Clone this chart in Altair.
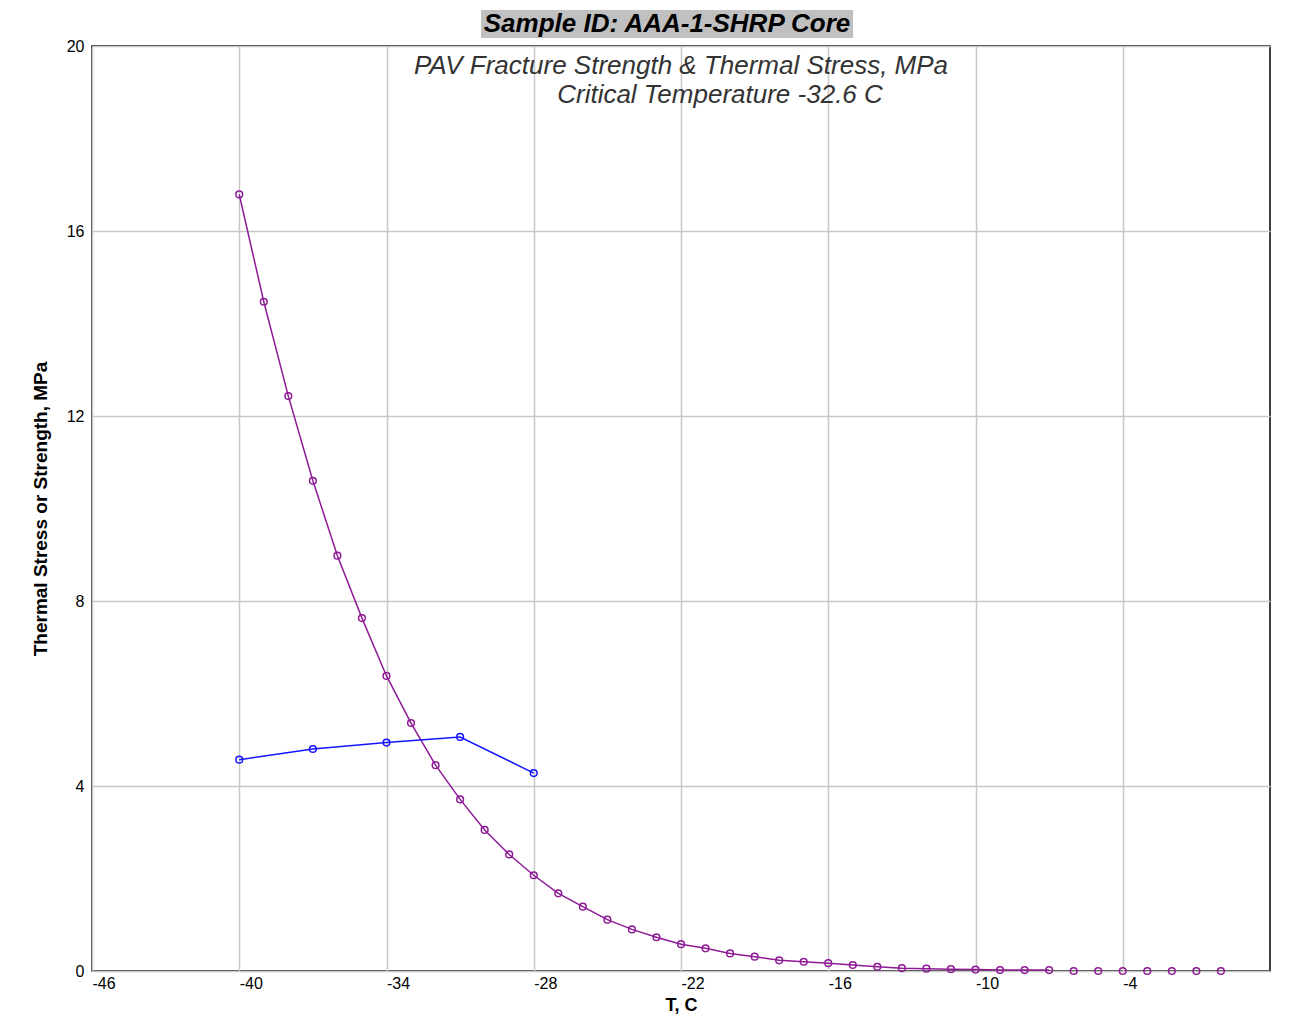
import altair as alt
import pandas as pd

# ---- data ----
stress_temp = list(range(-40, 1))
thermal_stress = [16.79, 14.47, 12.43, 10.60, 8.98, 7.63, 6.38, 5.36, 4.45, 3.71,
                  3.05, 2.52, 2.07, 1.68, 1.39, 1.11, 0.90, 0.73, 0.58, 0.49,
                  0.38, 0.31, 0.23, 0.20, 0.17, 0.13, 0.09, 0.06, 0.05, 0.04,
                  0.03, 0.02, 0.02, 0.02, 0.0, 0.0, 0.0, 0.0, 0.0, 0.0, 0.0]
line_last_temp = -7  # the purple line stops here; markers continue

strength_temp = [-40, -37, -34, -31, -28]
fracture_strength = [4.57, 4.80, 4.94, 5.06, 4.28]

x_ticks = [-46, -40, -34, -28, -22, -16, -10, -4]
y_ticks = [0, 4, 8, 12, 16, 20]

title_text = "Sample ID: AAA-1-SHRP Core"
sub1 = "PAV Fracture Strength & Thermal Stress, MPa"
sub2 = "Critical Temperature -32.6 C"

PURPLE = "#8e1a96"
BLUE = "#1414ff"

stress_df = pd.DataFrame({"T": stress_temp, "S": thermal_stress})
stress_line_df = stress_df[stress_df["T"] <= line_last_temp]
strength_df = pd.DataFrame({"T": strength_temp, "S": fracture_strength})

xscale = alt.Scale(domain=[-46, 2], nice=False, zero=False)
yscale = alt.Scale(domain=[0, 20], nice=False)

hyphen_expr = "datum.value < 0 ? '-' + abs(datum.value) : '' + datum.value"

xaxis = alt.Axis(values=x_ticks, labelAlign="left", labelPadding=4, ticks=False,
                 domain=False, grid=True, gridColor="#c8c8c8", gridWidth=1.5,
                 labelFontSize=16, labelColor="#000", labelExpr=hyphen_expr,
                 title="T, C", titleFontSize=18, titleFontWeight="bold",
                 titlePadding=5, titleColor="#000")
yaxis = alt.Axis(values=y_ticks, labelPadding=8, ticks=False, domain=False,
                 grid=True, gridColor="#c8c8c8", gridWidth=1.5,
                 labelFontSize=16, labelColor="#000", labelExpr=hyphen_expr,
                 title="Thermal Stress or Strength, MPa",
                 titleFontSize=19, titleFontWeight="bold", titlePadding=16,
                 titleColor="#000")

x_enc = alt.X("T:Q", scale=xscale, axis=xaxis)
y_enc = alt.Y("S:Q", scale=yscale, axis=yaxis)

stress_line = alt.Chart(stress_line_df).mark_line(color=PURPLE, strokeWidth=1.5).encode(
    x=x_enc, y=y_enc)
stress_pts = alt.Chart(stress_df).mark_point(
    shape="circle", filled=False, size=45, strokeWidth=1.5, color=PURPLE, opacity=1
).encode(x="T:Q", y="S:Q")

strength_line = alt.Chart(strength_df).mark_line(color=BLUE, strokeWidth=1.5).encode(
    x="T:Q", y="S:Q")
strength_pts = alt.Chart(strength_df).mark_point(
    shape="circle", filled=False, size=45, strokeWidth=1.5, color=BLUE, opacity=1
).encode(x="T:Q", y="S:Q")

title_df = pd.DataFrame({"t": [title_text]})
title_bg = alt.Chart(title_df).mark_rect(color="#c0c0c0").encode(
    x=alt.value(389), x2=alt.value(761), y=alt.value(-36), y2=alt.value(-8))
title_txt = alt.Chart(title_df).mark_text(
    font="Liberation Sans", fontSize=26, fontWeight="bold", fontStyle="italic",
    color="#000", align="center", baseline="middle"
).encode(text="t:N", x=alt.value(575), y=alt.value(-22))

sub_df1 = pd.DataFrame({"t": [sub1]})
sub_df2 = pd.DataFrame({"t": [sub2]})
sub_txt1 = alt.Chart(sub_df1).mark_text(
    font="Liberation Sans", fontSize=26, fontStyle="italic", color="#333",
    align="center", baseline="middle"
).encode(text="t:N", x=alt.value(589), y=alt.value(20))
sub_txt2 = alt.Chart(sub_df2).mark_text(
    font="Liberation Sans", fontSize=26, fontStyle="italic", color="#333",
    align="center", baseline="middle"
).encode(text="t:N", x=alt.value(628), y=alt.value(49))

chart = alt.layer(
    stress_line, stress_pts, strength_line, strength_pts,
    title_bg, title_txt, sub_txt1, sub_txt2
).properties(
    width=1178, height=925,
    autosize=alt.AutoSizeParams(type="none"),
    padding={"left": 84, "top": 38, "right": 24, "bottom": 50},
    background="white"
).configure(font="Liberation Sans").configure_view(
    stroke="#000", strokeWidth=1.5
)

chart.save("out.html", embed_options={"renderer": "svg", "actions": False})
